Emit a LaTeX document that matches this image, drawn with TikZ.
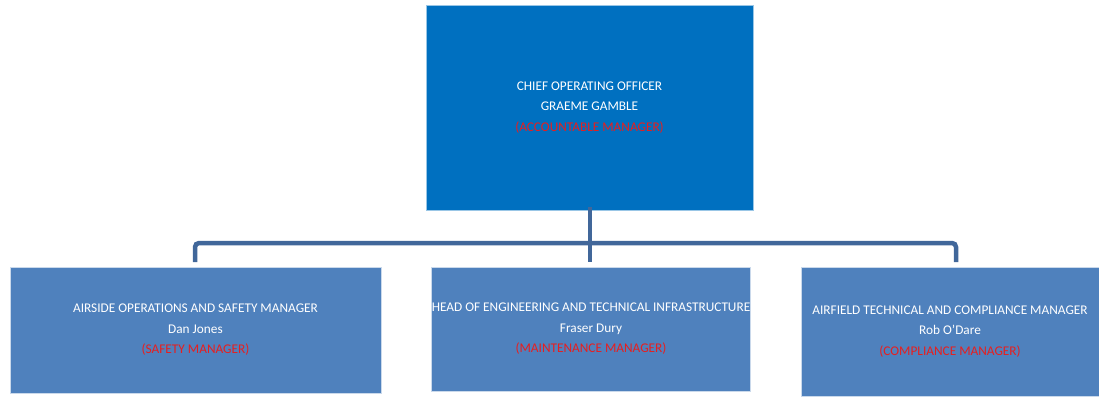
\documentclass[tikz,border=0pt]{standalone}
\usepackage{fontspec}
\setmainfont{Carlito}
\definecolor{topblue}{HTML}{0070C0}
\definecolor{subblue}{HTML}{4F81BD}
\definecolor{linkblue}{HTML}{41679A}
\definecolor{rolered}{HTML}{E81E1E}
\begin{document}
\begin{tikzpicture}[x=1pt,y=-1pt,
  box/.style={draw=white!70!subblue, line width=0.6pt, inner sep=0pt, align=center, text=white, font=\fontsize{13.3}{20.5}\selectfont},
  topbox/.style={box, fill=topblue, draw=white!60!topblue},
  subbox/.style={box, fill=subblue},
  link/.style={draw=linkblue, line width=4.5pt, rounded corners=4pt}]
\useasboundingbox (0,0) rectangle (1099,396);
\node[topbox, minimum width=327pt, minimum height=205pt] (coo) at (589.5,107.5)
  {CHIEF OPERATING OFFICER\\GRAEME GAMBLE\\\textcolor{rolered}{(ACCOUNTABLE MANAGER)}};
\node[subbox, minimum width=371pt, minimum height=126pt] (aos) at (195.5,330)
  {AIRSIDE OPERATIONS AND SAFETY MANAGER\\Dan Jones\\\textcolor{rolered}{(SAFETY MANAGER)}};
\node[subbox, minimum width=318pt, minimum height=124pt] (het) at (591,329)
  {HEAD OF ENGINEERING AND TECHNICAL INFRASTRUCTURE\\Fraser Dury\\\textcolor{rolered}{(MAINTENANCE MANAGER)}};
\node[subbox, minimum width=298pt, minimum height=129pt] (atc) at (950,331.5)
  {AIRFIELD TECHNICAL AND COMPLIANCE MANAGER\\Rob O’Dare\\\textcolor{rolered}{(COMPLIANCE MANAGER)}};
\coordinate (bar) at (590,243);
\coordinate (lt) at (195,262);
\coordinate (mt) at (590,262);
\coordinate (rt) at (956,262);
\draw[link] (lt) |- (bar) -| (rt);
\draw[link, rounded corners=0pt] ([yshift=3pt]coo.south -| mt) -- (mt);
\end{tikzpicture}
\end{document}
